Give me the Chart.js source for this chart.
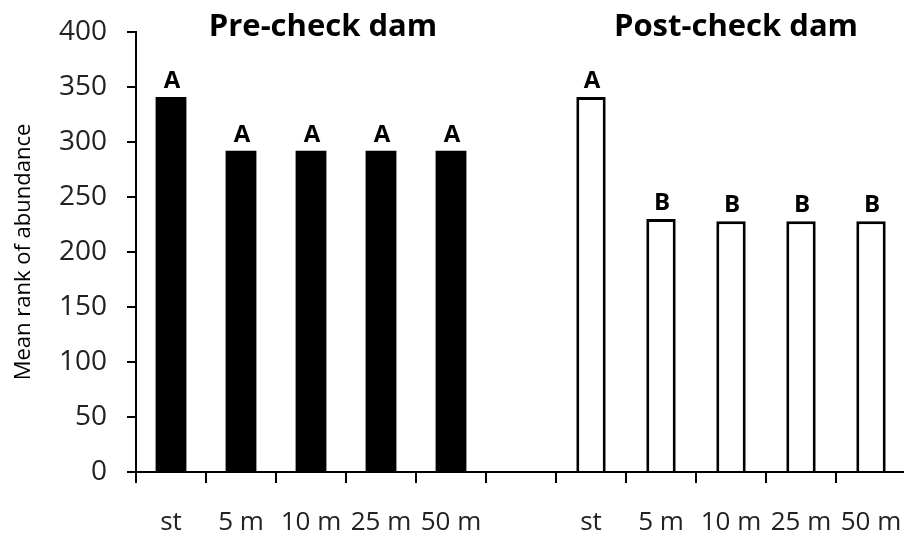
<!DOCTYPE html>
<html>
<head>
<meta charset="utf-8">
<script src="https://cdn.jsdelivr.net/npm/chart.js@4.4.1/dist/chart.umd.min.js"></script>
<style>
  html, body { margin: 0; padding: 0; background: #fff; }
  #wrap { width: 904px; height: 536px; overflow: hidden; position: relative; }
  canvas { display: block; }
</style>
</head>
<body>
<div id="wrap"><canvas id="grafica" width="906" height="536"></canvas></div>
<script>
// Datos
const categorias = ['st', '5 m', '10 m', '25 m', '50 m', '', 'st', '5 m', '10 m', '25 m', '50 m'];
const preValores = [341, 292, 292, 292, 292];
const postValores = [341, 230, 228, 228, 228];
const preLetras = ['A', 'A', 'A', 'A', 'A'];
const postLetras = ['A', 'B', 'B', 'B', 'B'];
const titulos = ['Pre-check dam', 'Post-check dam'];
const yTicks = [0, 50, 100, 150, 200, 250, 300, 350, 400];

const fuente = "'Open Sans', sans-serif";
const vacio = [null, null, null, null, null, null];

// Series alineadas a las 11 categorías (la sexta es el hueco)
const preData = preValores.concat(vacio);
const postData = vacio.concat(postValores);
const letras = [preLetras.concat(vacio), vacio.concat(postLetras)];

// Plugin para letras sobre las barras y títulos de los grupos
const textosExtra = {
    id: 'textosExtra',
    afterDatasetsDraw(chart) {
        const ctx = chart.ctx;
        const x = chart.scales.x;
        ctx.save();
        ctx.fillStyle = '#000';
        ctx.textAlign = 'center';
        ctx.textBaseline = 'alphabetic';
        ctx.font = 'bold 24px ' + fuente;
        chart.data.datasets.forEach((ds, i) => {
            chart.getDatasetMeta(i).data.forEach((bar, j) => {
                const letra = letras[i][j];
                if (letra && ds.data[j] != null) {
                    ctx.fillText(letra, bar.x + 1, bar.y - 9);
                }
            });
        });
        ctx.font = 'bold 31px ' + fuente;
        ctx.textBaseline = 'middle';
        const c1 = (x.getPixelForValue(0) + x.getPixelForValue(4)) / 2 + 12;
        const c2 = (x.getPixelForValue(6) + x.getPixelForValue(10)) / 2 + 5;
        ctx.fillText(titulos[0], c1, 27);
        ctx.fillText(titulos[1], c2, 27);
        ctx.restore();
    }
};

const ctx = document.getElementById('grafica').getContext('2d');
const grafica = new Chart(ctx, {
    type: 'bar',
    data: {
        labels: categorias,
        datasets: [{
            label: 'Pre-check dam',
            data: preData,
            backgroundColor: '#000',
            borderColor: '#000',
            borderWidth: 0,
            barPercentage: 0.44,
            categoryPercentage: 1,
            grouped: false
        }, {
            label: 'Post-check dam',
            data: postData,
            backgroundColor: '#fff',
            borderColor: '#000',
            borderWidth: 3,
            barPercentage: 0.42,
            categoryPercentage: 1,
            grouped: false
        }]
    },
    options: {
        responsive: false,
        animation: false,
        layout: { padding: { top: 32, right: 0, left: 0, bottom: 0 } },
        plugins: {
            legend: { display: false },
            tooltip: { enabled: false }
        },
        scales: {
            x: {
                offset: true,
                grid: {
                    offset: true,
                    drawOnChartArea: false,
                    drawTicks: true,
                    tickLength: 11,
                    color: '#000',
                    lineWidth: 2
                },
                border: { display: true, color: '#000', width: 2 },
                ticks: {
                    color: '#222',
                    font: { family: fuente, size: 26 },
                    padding: 24,
                    maxRotation: 0,
                    autoSkip: false
                },
                afterFit: (scale) => {
                    scale.height = 64;
                    scale.paddingLeft = 0;
                    scale.paddingRight = 0;
                }
            },
            y: {
                min: 0,
                max: 400,
                afterBuildTicks: (scale) => { scale.ticks = yTicks.map(v => ({ value: v })); },
                grid: {
                    drawOnChartArea: false,
                    drawTicks: true,
                    tickLength: 9,
                    color: '#000',
                    lineWidth: 2
                },
                border: { display: true, color: '#000', width: 2 },
                ticks: {
                    color: '#222',
                    font: { family: fuente, size: 28 },
                    padding: 20
                },
                title: {
                    display: true,
                    text: 'Mean rank of abundance',
                    color: '#000',
                    font: { family: fuente, size: 22 },
                    padding: { top: 11, bottom: 0 }
                },
                afterFit: (scale) => {
                    scale.width = 136;
                    scale.paddingTop = 0;
                    scale.paddingBottom = 0;
                }
            }
        }
    },
    plugins: [textosExtra]
});
</script>
</body>
</html>
